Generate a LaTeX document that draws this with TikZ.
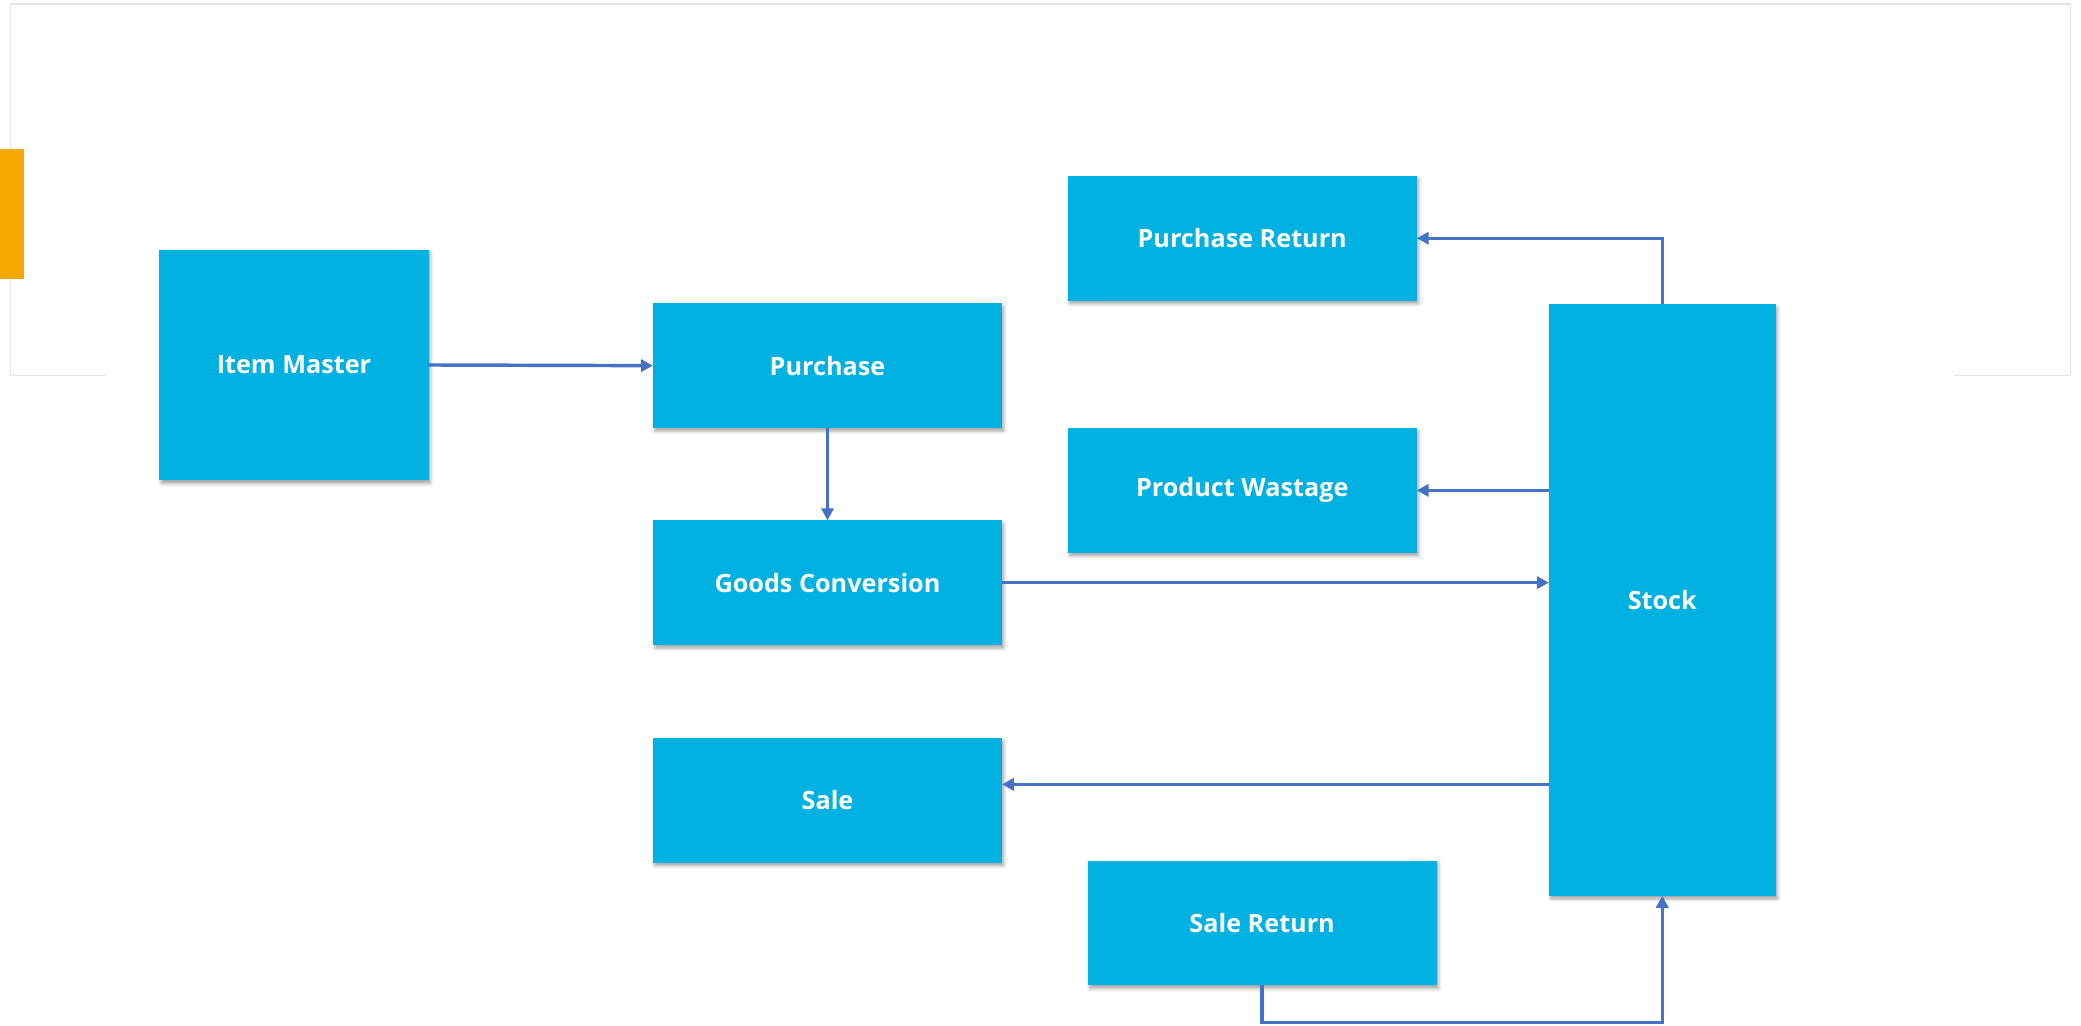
\documentclass[tikz,border=0pt]{standalone}
\usepackage{fontspec}
\setmainfont{Open Sans}
\usetikzlibrary{arrows.meta,shadows.blur}

\definecolor{boxblue}{RGB}{0,177,225}
\definecolor{linkblue}{RGB}{68,114,196}
\definecolor{markyellow}{RGB}{245,168,0}
\definecolor{framegrey}{RGB}{228,228,228}

\tikzset{
  box/.style={rectangle, fill=boxblue, inner sep=0pt, outer sep=0pt,
    text=white, font=\fontsize{9.5}{11}\selectfont\bfseries,
    blur shadow={shadow xshift=0.7pt, shadow yshift=-1.2pt, shadow blur radius=1.2pt, shadow opacity=35}},
  widebox/.style={box, minimum width=131.5pt, minimum height=47pt},
  link/.style={draw=linkblue, line width=1.3pt, -{Triangle[length=4.5pt,width=4.6pt]}}
}

\begin{document}
\begin{tikzpicture}[x=0.5pt,y=-0.5pt]
    \useasboundingbox (0,0) rectangle (1568,773);

    %Shape: Frame
    \draw [framegrey, line width=0.5pt] (80,283) -- (8,283) -- (8,3) -- (1560,3) -- (1560,283) -- (1472,283);
    %Shape: Rectangle (marker)
    \fill [markyellow] (0,112) rectangle (18,210);

    % Text Node
    \node [box, minimum width=101.5pt, minimum height=87pt] (item) at (221.5,275) {Item Master};
    % Text Node
    \node [widebox] (purchase) at (623.5,275.5) {Purchase};
    % Text Node
    \node [widebox] (goods) at (623.5,439) {Goods Conversion};
    % Text Node
    \node [widebox] (sale) at (623.5,603) {Sale};
    % Text Node
    \node [widebox] (pret) at (936,179.5) {Purchase Return};
    % Text Node
    \node [widebox] (pwaste) at (936,369.5) {Product Wastage};
    % Text Node
    \node [widebox] (sret) at (951,695.5) {Sale Return};
    % Text Node
    \node [box, minimum width=85.5pt, minimum height=223pt] (stock) at (1252.5,452) {Stock};

    \coordinate (salein) at ([yshift=6pt]sale.east);

    %Straight Lines
    \draw [link] (item.east) -- (purchase.west);
    \draw [link] (purchase.south) -- (goods.north);
    \draw [link] (goods.east) -- (goods.east -| stock.west);
    \draw [link] (stock.north) |- (pret.east);
    \draw [link] (stock.west |- pwaste.east) -- (pwaste.east);
    \draw [link] (stock.west |- salein) -- (salein);
    \draw [link] (sret.south) -- ++(0,28) -| (stock.south);

\end{tikzpicture}
\end{document}
